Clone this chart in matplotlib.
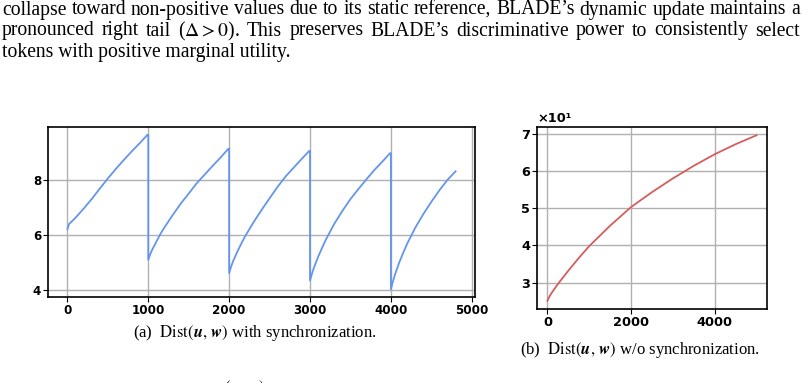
import matplotlib
matplotlib.use("Agg")
import matplotlib.pyplot as plt

plt.rcParams['mathtext.fontset'] = 'stix'

# (a) 带同步: 每 1000 步重置一次
steps_sync = [0, 20, 100, 200, 300, 400, 500, 600, 700, 800, 900, 990,
              1000, 1025, 1050, 1100, 1150, 1200, 1300, 1400, 1500, 1600, 1700, 1800, 1900, 1990,
              2000, 2025, 2050, 2100, 2150, 2200, 2300, 2400, 2500, 2600, 2700, 2800, 2900, 2990,
              3000, 3025, 3050, 3100, 3150, 3200, 3300, 3400, 3500, 3600, 3700, 3800, 3900, 3990,
              4000, 4025, 4050, 4100, 4150, 4200, 4300, 4400, 4500, 4600, 4700, 4800]
dist_sync = [6.21, 6.39, 6.62, 6.95, 7.3, 7.68, 8.05, 8.4, 8.73, 9.05, 9.35, 9.64,
             5.09, 5.3, 5.47, 5.75, 6.03, 6.27, 6.71, 7.13, 7.5, 7.88, 8.2, 8.52, 8.83, 9.13,
             4.61, 4.85, 5.05, 5.38, 5.68, 5.96, 6.45, 6.9, 7.33, 7.75, 8.13, 8.45, 8.77, 9.05,
             4.34, 4.6, 4.82, 5.2, 5.53, 5.85, 6.4, 6.87, 7.3, 7.67, 8.03, 8.37, 8.68, 8.97,
             4.02, 4.3, 4.55, 4.97, 5.33, 5.67, 6.25, 6.75, 7.2, 7.62, 8.0, 8.31]
# 把重置点处的竖直下降连起来
for k in [1000, 2000, 3000, 4000]:
    i = steps_sync.index(k)
    steps_sync.insert(i, k)
    dist_sync.insert(i, dist_sync[i - 1])

# (b) 不同步
steps_nosync = [0, 50, 100, 250, 500, 750, 1000, 1500, 2000, 2500, 3000, 3500, 4000, 4500, 5000]
dist_nosync = [25.1, 26.3, 27.2, 29.6, 33.2, 36.6, 39.8, 45.3, 50.3, 54.3, 58.0, 61.4, 64.5, 67.2, 69.6]

paragraph = [
    "collapse toward non-positive values due to its static reference, BLADE\u2019s dynamic update maintains a",
    "pronounced right tail ($\\Delta>0$). This preserves BLADE\u2019s discriminative power to consistently select",
    "tokens with positive marginal utility.",
]
caption_a = "(a)  $\\mathrm{Dist}(\\boldsymbol{u},\\,\\boldsymbol{w})$ with synchronization."
caption_b = "(b)  $\\mathrm{Dist}(\\boldsymbol{u},\\,\\boldsymbol{w})$ w/o synchronization."

fig = plt.figure(figsize=(8.04, 3.83), dpi=100)
renderer = fig.canvas.get_renderer()

serif = ['Liberation Serif', 'DejaVu Serif']
body_size = 14.1
# 正文两端对齐 (最后一行左对齐)
x0, x1 = 2, 800
for i, line in enumerate(paragraph):
    y = 1 - (10 + 21 * i) / 383
    if i == len(paragraph) - 1:
        fig.text(x0 / 804, y, line, family=serif, fontsize=body_size, ha='left', va='center')
        continue
    words = line.split(' ')
    texts = [fig.text(0, y, w, family=serif, fontsize=body_size, ha='left', va='center') for w in words]
    widths = [t.get_window_extent(renderer).width for t in texts]
    gap = (x1 - x0 - sum(widths)) / (len(words) - 1)
    pos = x0
    for t, w in zip(texts, widths):
        t.set_x(pos / 804)
        pos += w + gap

ax1 = fig.add_axes([48 / 804, 1 - 297 / 383, 427 / 804, 170 / 383])
ax1.plot(steps_sync, dist_sync, color='#6495ED', lw=1.3)
ax1.set_yticks([4, 6, 8])
ax1.set_xticks([0, 1000, 2000, 3000, 4000, 5000])
ax1.grid(True, color='#b0b0b0', lw=1.0)
ax1.tick_params(pad=1.5)
for lab in ax1.get_xticklabels() + ax1.get_yticklabels():
    lab.set_fontweight('bold')
    lab.set_fontsize(8.6)

ax2 = fig.add_axes([537 / 804, 1 - 309 / 383, 230 / 804, 182 / 383])
ax2.plot(steps_nosync, dist_nosync, color='#d45d5d', lw=1.3)
ax2.set_xticks([0, 2000, 4000])
ax2.set_yticks([30, 40, 50, 60, 70])
ax2.set_yticklabels(['3', '4', '5', '6', '7'])
ax2.grid(True, color='#b0b0b0', lw=1.0)
ax2.tick_params(pad=1.5)
for lab in ax2.get_xticklabels() + ax2.get_yticklabels():
    lab.set_fontweight('bold')
    lab.set_fontsize(9.3)
# 科学计数法的偏移文字
fig.text(537 / 804, 1 - 118 / 383, "\u00d710\u00b9", fontsize=9.3, fontweight='bold',
         ha='left', va='center')

for ax in (ax1, ax2):
    for s in ax.spines.values():
        s.set_linewidth(1.2)

fig.text(255 / 804, 1 - 333 / 383, caption_a, family=serif, fontsize=12, ha='center', va='center')
fig.text(640 / 804, 1 - 350 / 383, caption_b, family=serif, fontsize=12, ha='center', va='center')
# 底部被裁掉的一行
fig.text(224 / 804, 4 / 383, "$(\\boldsymbol{u},\\,\\boldsymbol{w})$", family=serif, fontsize=12,
         ha='left', va='top')

fig.savefig('out.png', dpi=100)
